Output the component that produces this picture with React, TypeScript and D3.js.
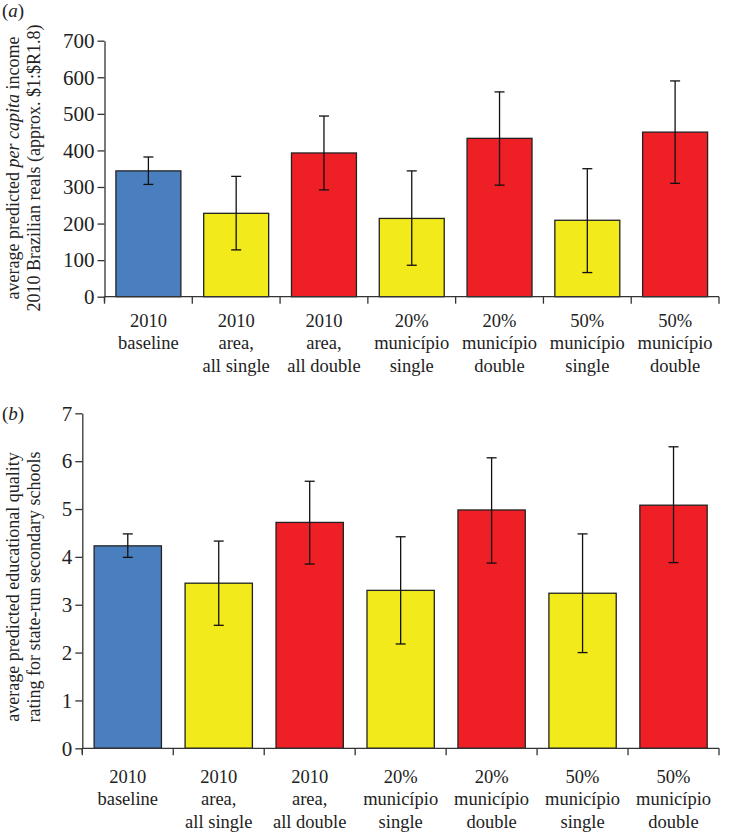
import React, { useEffect, useRef } from 'react';
import * as d3 from 'd3';

// categories (label lines)
const categories = [
  ['2010', 'baseline'],
  ['2010', 'area,', 'all single'],
  ['2010', 'area,', 'all double'],
  ['20%', 'município', 'single'],
  ['20%', 'município', 'double'],
  ['50%', 'município', 'single'],
  ['50%', 'município', 'double'],
];
const barColors = ['#4a7fbf', '#f2ea1a', '#ee1f25', '#f2ea1a', '#ee1f25', '#f2ea1a', '#ee1f25'];

// panel (a): per capita income
const incomeMean = [344, 228, 393, 214, 433, 209, 450];
const incomeLow = [307, 128, 292, 86, 305, 66, 310];
const incomeHigh = [382, 329, 494, 344, 560, 350, 590];
const incomeTicks = [0, 100, 200, 300, 400, 500, 600, 700];

// panel (b): educational quality
const eduMean = [4.23, 3.45, 4.72, 3.3, 4.98, 3.24, 5.08];
const eduLow = [3.99, 2.57, 3.85, 2.18, 3.87, 2.0, 3.88];
const eduHigh = [4.48, 4.33, 5.58, 4.42, 6.07, 4.48, 6.3];
const eduTicks = [0, 1, 2, 3, 4, 5, 6, 7];

const FONT = 'Liberation Serif, Times New Roman, serif';

const drawPanel = (svg, opts) => {
  const { left, right, top, bottom, max, ticks, mean, low, high, tag, tagY, titleLines, titleY, labelOffset } = opts;
  const g = svg.append('g');

  const x = d3.scaleBand()
    .domain(categories.map((_, i) => i))
    .range([left, right])
    .paddingInner(0.26)
    .paddingOuter(0.13);
  const y = d3.scaleLinear().domain([0, max]).range([bottom, top]);
  const step = x.step();

  // bars
  g.selectAll('rect.bar')
    .data(mean)
    .enter().append('rect')
    .attr('x', (d, i) => x(i))
    .attr('y', d => y(d))
    .attr('width', x.bandwidth())
    .attr('height', d => y(0) - y(d))
    .attr('fill', (d, i) => barColors[i])
    .attr('stroke', '#222')
    .attr('stroke-width', 1.3);

  // error bars
  const eb = g.selectAll('g.err')
    .data(mean.map((m, i) => ({ i, lo: low[i], hi: high[i] })))
    .enter().append('g')
    .attr('stroke', '#111')
    .attr('stroke-width', 1.3);
  const cx = d => x(d.i) + x.bandwidth() / 2;
  eb.append('line').attr('x1', cx).attr('x2', cx).attr('y1', d => y(d.lo)).attr('y2', d => y(d.hi));
  eb.append('line').attr('x1', d => cx(d) - 5).attr('x2', d => cx(d) + 5).attr('y1', d => y(d.hi)).attr('y2', d => y(d.hi));
  eb.append('line').attr('x1', d => cx(d) - 5).attr('x2', d => cx(d) + 5).attr('y1', d => y(d.lo)).attr('y2', d => y(d.lo));

  // y axis
  const yAxis = g.append('g')
    .attr('transform', `translate(${left},0)`)
    .call(d3.axisLeft(y).tickValues(ticks).tickFormat(d3.format('d')).tickSize(7).tickPadding(3).tickSizeOuter(0));
  yAxis.select('.domain').attr('stroke', '#333').attr('stroke-width', 1.3);
  yAxis.selectAll('line').attr('stroke', '#333').attr('stroke-width', 1.3);
  yAxis.selectAll('text')
    .style('font-family', FONT)
    .style('font-size', '21px')
    .attr('fill', '#222');
  // y axis extends slightly below x axis
  g.append('line')
    .attr('x1', left).attr('x2', left)
    .attr('y1', bottom).attr('y2', bottom + 5)
    .attr('stroke', '#333').attr('stroke-width', 1.3);

  // x axis
  g.append('line')
    .attr('x1', left).attr('x2', right)
    .attr('y1', bottom).attr('y2', bottom)
    .attr('stroke', '#333').attr('stroke-width', 1.3);
  g.selectAll('line.xtick')
    .data(d3.range(categories.length + 1))
    .enter().append('line')
    .attr('x1', i => left + i * step).attr('x2', i => left + i * step)
    .attr('y1', bottom).attr('y2', bottom + 7)
    .attr('stroke', '#333').attr('stroke-width', 1.3);

  // category labels
  const lab = g.selectAll('text.cat')
    .data(categories)
    .enter().append('text')
    .attr('text-anchor', 'middle')
    .style('font-family', FONT)
    .style('font-size', '18.5px')
    .attr('fill', '#222');
  lab.selectAll('tspan')
    .data((d, i) => d.map(t => ({ t, i })))
    .enter().append('tspan')
    .attr('x', d => x(d.i) + x.bandwidth() / 2)
    .attr('y', (d, j) => bottom + labelOffset + j * 22.4)
    .text(d => d.t);

  // panel tag
  const tg = g.append('text')
    .attr('x', 2).attr('y', tagY)
    .style('font-family', FONT)
    .style('font-size', '19px')
    .attr('fill', '#222');
  tg.append('tspan').text('(');
  tg.append('tspan').attr('font-style', 'italic').text(tag);
  tg.append('tspan').text(')');

  // y title
  titleLines.forEach((parts, j) => {
    const t = g.append('text')
      .attr('transform', `translate(${19 + j * 21},${titleY}) rotate(-90)`)
      .attr('text-anchor', 'middle')
      .style('font-family', FONT)
      .style('font-size', '18px')
      .attr('fill', '#222');
    parts.forEach(p => {
      t.append('tspan').attr('font-style', p.italic ? 'italic' : 'normal').text(p.text);
    });
  });
};

const App = () => {
  const svgRef = useRef(null);

  useEffect(() => {
    const svg = d3.select(svgRef.current);
    svg.selectAll('*').remove();

    drawPanel(svg, {
      left: 104.5, right: 719, top: 40.7, bottom: 296.7,
      max: 700, ticks: incomeTicks,
      mean: incomeMean, low: incomeLow, high: incomeHigh,
      tag: 'a', tagY: 17, labelOffset: 30,
      titleY: 168,
      titleLines: [
        [{ text: 'average predicted ' }, { text: 'per capita', italic: true }, { text: ' income' }],
        [{ text: '2010 Brazilian reals (approx. $1:$R1.8)' }],
      ],
    });

    drawPanel(svg, {
      left: 82.3, right: 719, top: 413.3, bottom: 748.3,
      max: 7, ticks: eduTicks,
      mean: eduMean, low: eduLow, high: eduHigh,
      tag: 'b', tagY: 420, labelOffset: 34.4,
      titleY: 587,
      titleLines: [
        [{ text: 'average predicted educational quality' }],
        [{ text: 'rating for state-run secondary schools' }],
      ],
    });
  }, []);

  return (
    <svg
      ref={svgRef}
      width={729}
      height={832}
      style={{ position: 'absolute', left: 0, top: 0, background: '#fff' }}
    />
  );
};

export default App;
